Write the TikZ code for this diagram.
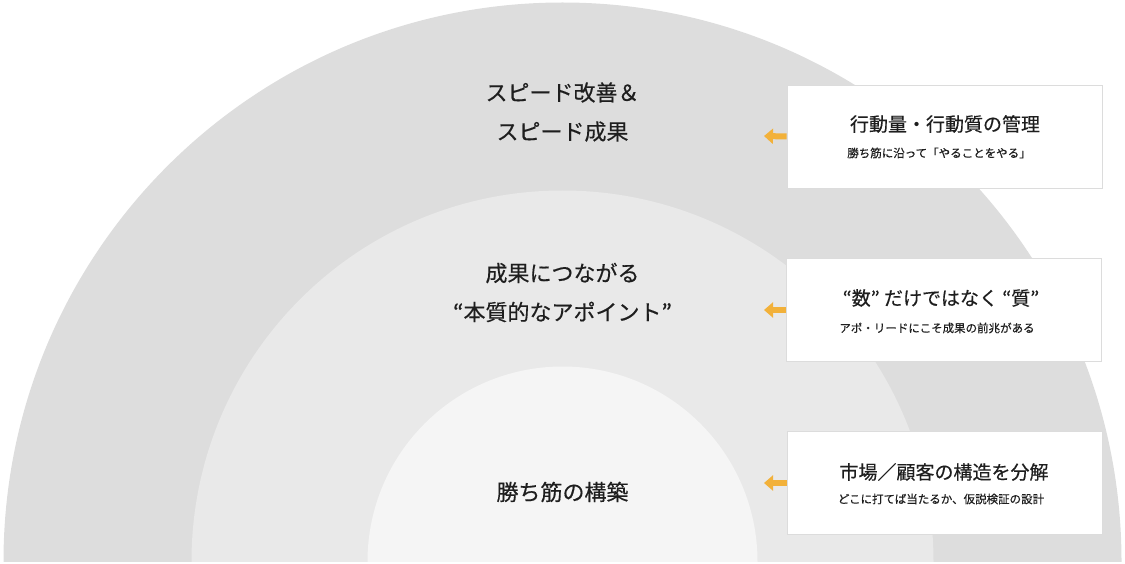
\documentclass[tikz,border=0pt]{standalone}
\usepackage{fontspec}
\setmainfont{Noto Sans CJK JP}[RawFeature={embolden=0.35}]
\usetikzlibrary{arrows.meta}
\definecolor{ringA}{HTML}{DDDDDD}
\definecolor{ringB}{HTML}{E9E9E9}
\definecolor{ringC}{HTML}{F5F5F5}
\definecolor{txt}{HTML}{1E1E1E}
\definecolor{boxline}{HTML}{DCDCDC}
\definecolor{arrowc}{HTML}{F2B13A}
\tikzset{
  ringlabel/.style={align=center, text=txt, font=\fontsize{22}{39}\selectfont, inner sep=0pt},
  infobox/.style={draw=boxline, line width=0.8pt, fill=white, minimum width=315pt, minimum height=103pt, inner sep=0pt},
  boxtitle/.style={text=txt, font=\fontsize{19}{22}\selectfont, inner sep=0pt},
  boxsub/.style={text=txt, font=\fontsize{11.5}{14}\selectfont, inner sep=0pt},
  leftarrow/.style={-{Triangle[length=9pt,width=15pt]}, line width=6pt, draw=arrowc}
}
\begin{document}
\begin{tikzpicture}[x=1pt,y=-1pt]
\useasboundingbox (0,0) rectangle (1125,564);
\begin{scope}
\clip (0,0) rectangle (1125,561.5);
\fill[ringA] (562.5,561.5) circle[radius=559pt];
\fill[ringB] (562.5,561.5) circle[radius=371pt];
\fill[ringC] (562.5,561.5) circle[radius=195pt];
\end{scope}
% ring labels
\node[ringlabel] (l1) at (562.5,112) {スピード改善＆\\スピード成果};
\node[ringlabel] (l2) at (562.5,292.5) {成果につながる\\“本質的なアポイント”};
\node[ringlabel] (l3) at (562.5,492) {勝ち筋の構築};
% boxes
\node[infobox] (b1) at (944.5,136.5) {};
\node[infobox] (b2) at (943.5,310) {};
\node[infobox] (b3) at (944.5,483) {};
\node[boxtitle] (t1) at (945,124) {行動量・行動質の管理};
\node[boxsub] (s1) at (939,153) {勝ち筋に沿って「やることをやる」};
\node[boxtitle] (t2) at (941,298) {“数” だけではなく “質”};
\node[boxsub] (s2) at (937,328) {アポ・リードにこそ成果の前兆がある};
\node[boxtitle] (t3) at (944,472) {市場／顧客の構造を分解};
\node[boxsub] (s3) at (941,499) {どこに打てば当たるか、仮説検証の設計};
% arrows
\coordinate (a1) at (764,136);
\coordinate (a2) at (764,310);
\coordinate (a3) at (764,483);
\draw[leftarrow] (b1.west) -- (a1);
\draw[leftarrow] (b2.west) -- (a2);
\draw[leftarrow] (b3.west) -- (a3);
\end{tikzpicture}
\end{document}
